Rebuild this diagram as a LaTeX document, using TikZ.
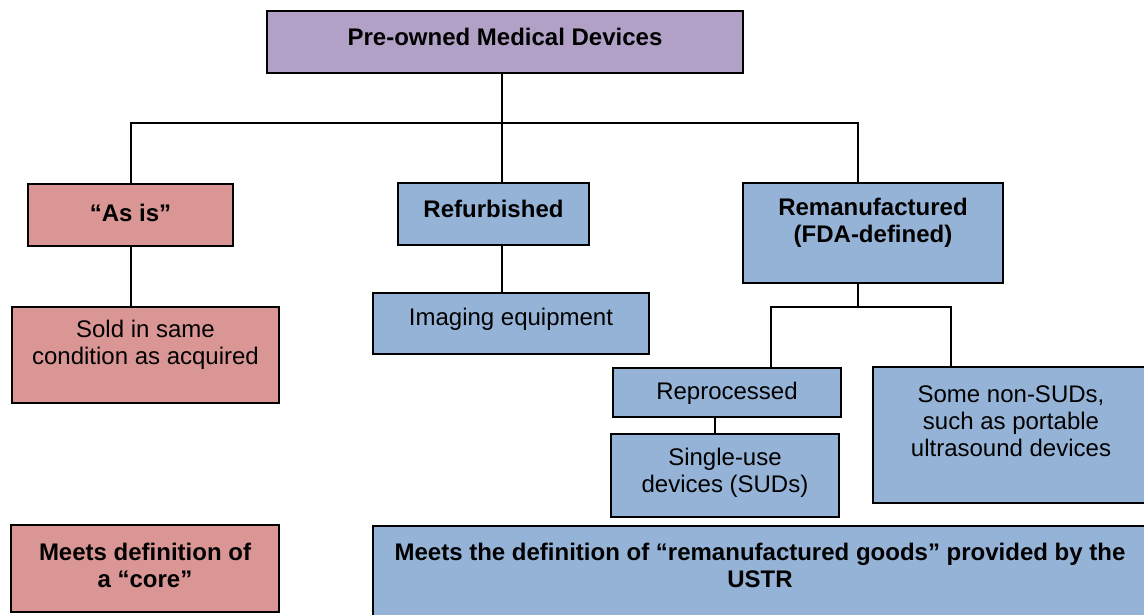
\documentclass[tikz,border=0pt]{standalone}
\usepackage{fontspec}
\setmainfont{Liberation Sans}
\definecolor{purp}{HTML}{B2A1C7}
\definecolor{redb}{HTML}{D99694}
\definecolor{blueb}{HTML}{95B3D7}
\tikzset{
  box/.style={draw=black, line width=1.8pt, rectangle, inner sep=0pt, outer sep=0pt},
  pbox/.style={box, fill=purp},
  rbox/.style={box, fill=redb},
  bbox/.style={box, fill=blueb},
  txt/.style={align=center, inner sep=0pt, font=\fontsize{24}{27}\selectfont},
  btxt/.style={txt, font=\fontsize{24}{27}\selectfont\bfseries},
  conn/.style={draw=black, line width=1.6pt}
}
\begin{document}
\begin{tikzpicture}[x=1pt,y=-1pt]
\useasboundingbox (0,0) rectangle (1144,615);
% boxes
\node[pbox, minimum width=476pt, minimum height=62pt] (top) at (505,42) {};
\node[btxt] (topt) at (505,37) {Pre-owned Medical Devices};

\node[rbox, minimum width=205pt, minimum height=62pt] (asis) at (130.5,215) {};
\node[btxt] (asist) at (130.5,213) {“As is”};

\node[bbox, minimum width=191pt, minimum height=62pt] (refurb) at (493.5,214) {};
\node[btxt] (refurbt) at (493.5,209) {Refurbished};

\node[bbox, minimum width=260pt, minimum height=100pt] (reman) at (873,233) {};
\node[btxt] (remant) at (873,222.5) {Remanufactured\\(FDA-defined)};

\node[rbox, minimum width=267pt, minimum height=96pt] (sold) at (145.5,355) {};
\node[txt] (soldt) at (145.5,345) {Sold in same\\condition as acquired};

\node[bbox, minimum width=276pt, minimum height=61pt] (imaging) at (511,323.5) {};
\node[txt] (imagingt) at (511,319) {Imaging equipment};

\node[bbox, minimum width=228pt, minimum height=49pt] (reproc) at (727,392.5) {};
\node[txt] (reproct) at (727,393) {Reprocessed};

\node[bbox, minimum width=228pt, minimum height=83pt] (single) at (725,475.5) {};
\node[txt] (singlet) at (725,473) {Single-use\\devices (SUDs)};

\node[bbox, minimum width=280pt, minimum height=136pt] (nonsud) at (1013,435) {};
\node[txt] (nonsudt) at (1011,421) {Some non-SUDs,\\such as portable\\ultrasound devices};

\node[rbox, minimum width=268pt, minimum height=87pt] (core) at (145,568.5) {};
\node[btxt] (coret) at (145,565) {Meets definition of\\a “core”};

\node[bbox, minimum width=780pt, minimum height=96pt] (big) at (763,574) {};
\node[btxt] (bigt) at (760,565) {Meets the definition of “remanufactured goods” provided by the\\USTR};

% connector coordinates
\coordinate (b1) at (131,123);
\coordinate (c) at (502,123);
\coordinate (b3) at (858,123);
\coordinate (s1) at (771,307);
\coordinate (s2) at (951,307);
\coordinate (s3) at (715,0);

% connectors
\draw[conn] (b1 |- asis.north) -- (b1) -- (b3) -- (b3 |- reman.north);
\draw[conn] (c |- top.south) -- (c) -- (c |- refurb.north);
\draw[conn] (c |- refurb.south) -- (c |- imaging.north);
\draw[conn] (b1 |- asis.south) -- (b1 |- sold.north);
\draw[conn] (b3 |- reman.south) -- (b3 |- s1);
\draw[conn] (s1 |- reproc.north) -- (s1) -- (s2) -- (s2 |- nonsud.north);
\draw[conn] (s3 |- reproc.south) -- (s3 |- single.north);
\end{tikzpicture}
\end{document}
